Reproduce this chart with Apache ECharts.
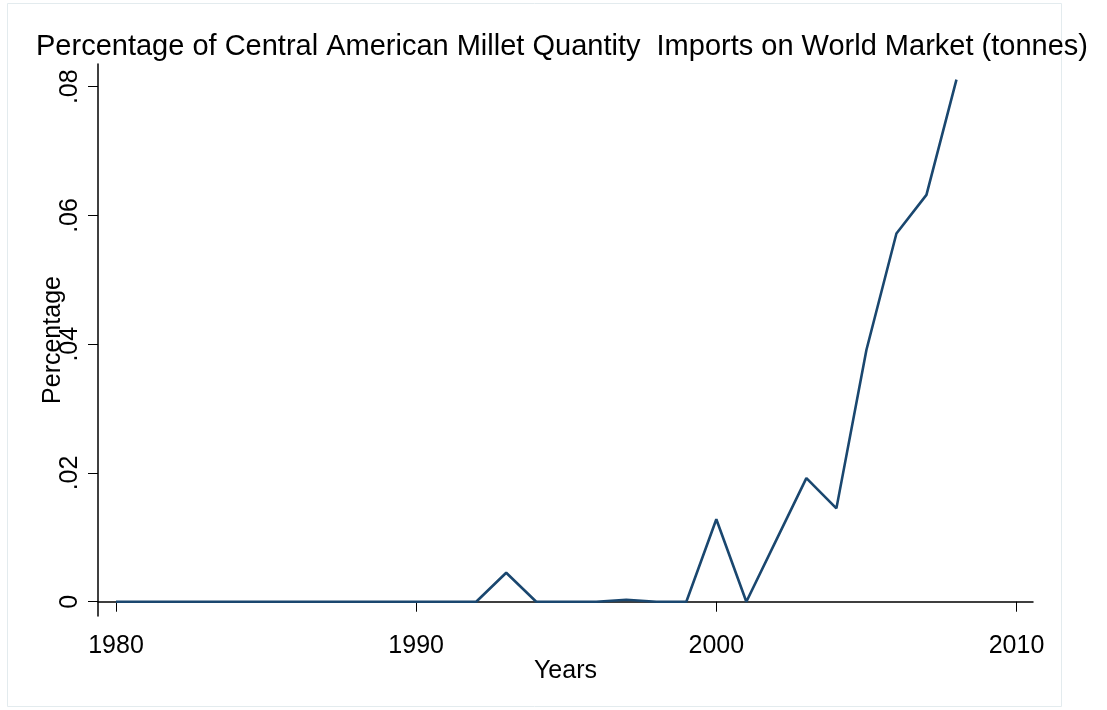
<!DOCTYPE html>
<html>
<head>
<meta charset="utf-8">
<script src="https://cdn.jsdelivr.net/npm/echarts@6/dist/echarts.min.js"></script>
<style>
html,body{margin:0;padding:0;background:#fff;}
#chart{width:1107px;height:710px;}
</style>
</head>
<body>
<div id="chart"></div>
<script>
// Data
const titleText = "Percentage of Central American Millet Quantity  Imports on World Market (tonnes)";
const xAxisTitle = "Years";
const yAxisTitle = "Percentage";
const years = [1980,1981,1982,1983,1984,1985,1986,1987,1988,1989,1990,1991,1992,1993,1994,1995,1996,1997,1998,1999,2000,2001,2002,2003,2004,2005,2006,2007,2008];
const percentage = [0,0,0,0,0,0,0,0,0,0,0,0,0,0.0045,0,0,0,0.0003,0,0,0.0128,0,0.0096,0.0192,0.0145,0.0391,0.0572,0.0632,0.0811];
const xTicks = [1980,1990,2000,2010];
const xTickLabels = ["1980","1990","2000","2010"];
const yTicks = [0,0.02,0.04,0.06,0.08];
const yTickLabels = ["0",".02",".04",".06",".08"];

const font = "'Liberation Sans', Arial, Helvetica, sans-serif";
const chart = echarts.init(document.getElementById('chart'), null, {renderer:'canvas'});
const seriesData = years.map((y,i)=>[y, percentage[i]]);
function lookup(ticks, labels, v){ const i = ticks.findIndex(t=>Math.abs(t-v)<1e-9); return i>=0 ? labels[i] : ''; }

chart.setOption({
  backgroundColor:'#ffffff',
  animation:false,
  title:{
    text:titleText,
    left:31, top:27,
    textStyle:{fontFamily:font, fontSize:29, fontWeight:'normal', color:'#000'}
  },
  graphic:[{
    type:'rect', silent:true, z:-1,
    shape:{x:7.5,y:3.5,width:1054,height:703},
    style:{fill:null, stroke:'#e3ebee', lineWidth:1}
  }],
  grid:{left:98, right:74, top:64, bottom:94, containLabel:false},
  xAxis:{
    type:'value', min:1979.4, max:2010.55,
    name:xAxisTitle, nameLocation:'middle', nameGap:43, nameMoveOverlap:false,
    nameTextStyle:{fontFamily:font, fontSize:25, color:'#000'},
    axisLine:{show:true, lineStyle:{color:'#000', width:1.5}},
    axisTick:{show:true, length:10, customValues:xTicks, lineStyle:{color:'#000', width:1}},
    axisLabel:{customValues:xTicks, margin:18, fontFamily:font, fontSize:25, color:'#000',
      formatter:function(v){ return lookup(xTicks, xTickLabels, v); }},
    splitLine:{show:false}
  },
  yAxis:{
    type:'value', min:-0.00222, max:0.08353,
    name:yAxisTitle, nameLocation:'middle', nameGap:32, nameRotate:90, nameMoveOverlap:false,
    nameTextStyle:{fontFamily:font, fontSize:25, color:'#000'},
    axisLine:{show:true, lineStyle:{color:'#000', width:1.5}},
    axisTick:{show:true, length:10, customValues:yTicks, lineStyle:{color:'#000', width:1}},
    axisLabel:{customValues:yTicks, rotate:90, margin:15, fontFamily:font, fontSize:25, color:'#000',
      formatter:function(v){ return lookup(yTicks, yTickLabels, v); }},
    splitLine:{show:false}
  },
  series:[{
    type:'line', data:seriesData, showSymbol:false, symbol:'none',
    lineStyle:{color:'#1a476f', width:2.6}, itemStyle:{color:'#1a476f'}
  }]
});
</script>
</body>
</html>
